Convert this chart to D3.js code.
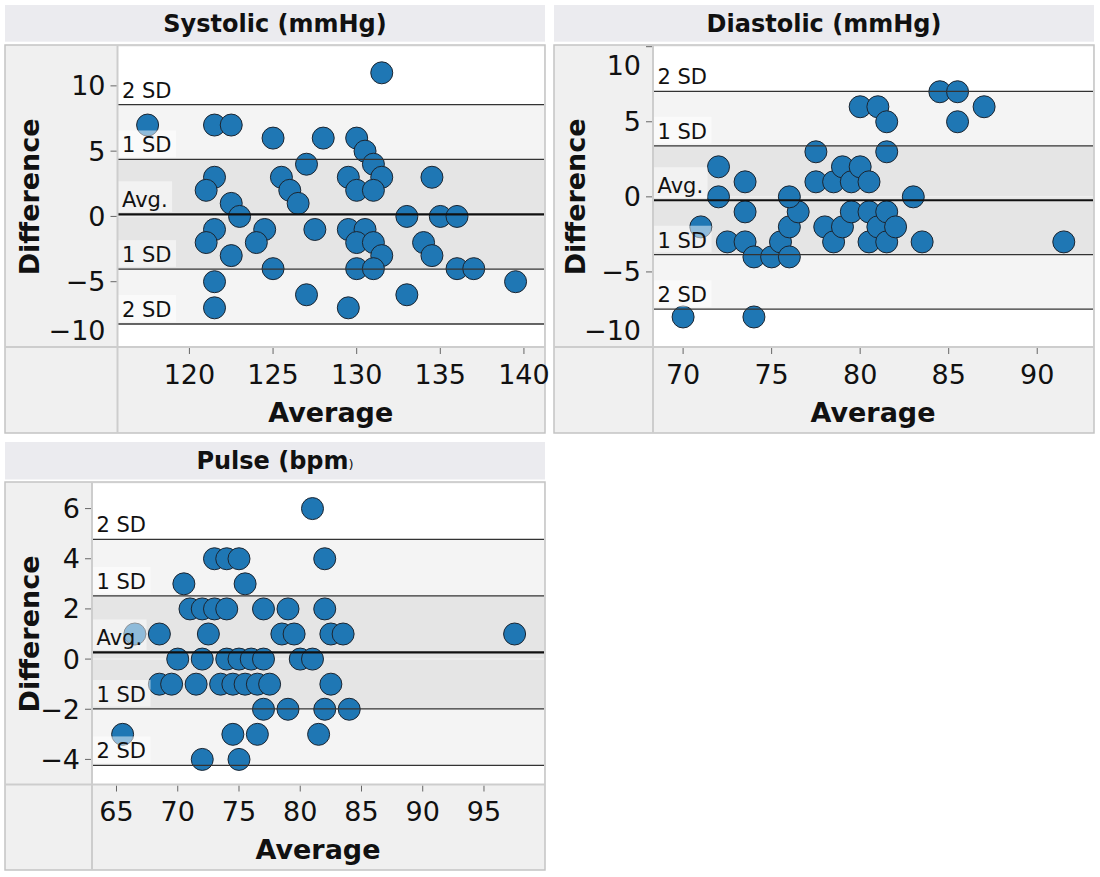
<!DOCTYPE html>
<html>
<head>
<meta charset="utf-8">
<script src="https://cdn.jsdelivr.net/npm/d3@7"></script>
<style>
body{margin:0;background:#fff}
text{font-family:"DejaVu Sans",sans-serif;fill:#111}
</style>
</head>
<body>
<div id="chart"></div>
<script>
// Bland-Altman style panels: average vs difference

const sysAvg = [117.5,131.5,121.5,122.5,125,128,130,130.5,131,131.5,127,121.5,125.5,129.5,134.5,121,126,130,131,122.5,126.5,123,133,135,136,121.5,124.5,127.5,129.5,130.5,121,124,130,131,134,122.5,131.5,134.5,125,130,131,136,137,121.5,139.5,127,133,121.5,129.5]
const sysDiff = [7,11,7,7,6,6,6,5,4,3,4,3,3,3,3,2,2,2,2,1,1,0,0,0,0,-1,-1,-1,-1,-1,-2,-2,-2,-2,-2,-3,-3,-3,-4,-4,-4,-4,-4,-5,-5,-6,-6,-7,-7]

const diaAvg = [70,74,71,72,72,72.5,73.5,73.5,73.5,74,75,75.5,76,76,76.5,76,77.5,77.5,78,78.5,78.5,79,79,79.5,79.5,80,80,80.5,80.5,80.5,81,81,81.5,81.5,81.5,81.5,82,83,83.5,84.5,85.5,85.5,87,91.5]
const diaDiff = [-8,-8,-2,2,0,-3,1,-1,-3,-4,-4,-3,-4,-2,-1,0,3,1,-2,1,-3,2,-2,1,-1,6,2,1,-1,-3,6,-2,5,3,-1,-3,-2,0,-3,7,7,5,6,-3]

const pulAvg = [81,73,74,75,82,70.5,75.5,71,72,73,74,77,79,82,66.5,68.5,72.5,78.5,79.5,82.5,83.5,97.5,70,72,74,75,76,77,80,81,68.5,69.5,71.5,73.5,74.5,75.5,76.5,77.5,82.5,77,79,82,84,65.5,74.5,76.5,81.5,72,75]
const pulDiff = [6,4,4,4,4,3,3,2,2,2,2,2,2,2,1,1,1,1,1,1,1,1,0,0,0,0,0,0,0,0,-1,-1,-1,-1,-1,-1,-1,-1,-1,-2,-2,-2,-2,-3,-3,-3,-3,-4,-4]

const sysXTicks = [120,125,130,135,140]
const sysYTicks = [-10,-5,0,5,10]
const diaXTicks = [70,75,80,85,90]
const diaYTicks = [-10,-5,0,5,10]
const pulXTicks = [65,70,75,80,85,90,95]
const pulYTicks = [-4,-2,0,2,4,6]

const bandLabels = [[2,"2 SD"],[1,"1 SD"],[0,"Avg."],[-1,"1 SD"],[-2,"2 SD"]]

const svg = d3.select("#chart").append("svg")
.attr("width",1100)
.attr("height",877)

const panels = [
{ id:"sys", title:"Systolic (mmHg)", avg:sysAvg, diff:sysDiff, xTicks:sysXTicks, yTicks:sysYTicks,
  xDom:[115.7,141.2], yDom:[-10,13],
  fx0:5, fx1:545, ty0:5, ty1:41.7, fy0:45, fy1:433, l:117.5, r:544, t:46.7, b:347, ylab:33.5 },
{ id:"dia", title:"Diastolic (mmHg)", avg:diaAvg, diff:diaDiff, xTicks:diaXTicks, yTicks:diaYTicks,
  xDom:[68.3,93.15], yDom:[-10,10],
  fx0:554, fx1:1094, ty0:5, ty1:41.7, fy0:45, fy1:433, l:653, r:1093, t:46.7, b:347, ylab:31 },
{ id:"pul", title:"Pulse (bpm", avg:pulAvg, diff:pulDiff, xTicks:pulXTicks, yTicks:pulYTicks,
  xDom:[63,99.9], yDom:[-5,7],
  fx0:5, fx1:545, ty0:442, ty1:479.5, fy0:482, fy1:870, l:92, r:544, t:483.5, b:784.5, ylab:33.5 }
]

function drawPanel(p){

const g = svg.append("g")

// title band
g.append("rect")
.attr("x",p.fx0).attr("y",p.ty0)
.attr("width",p.fx1-p.fx0).attr("height",p.ty1-p.ty0)
.attr("fill","#ebebef")

const title = g.append("text")
.attr("x",(p.fx0+p.fx1)/2)
.attr("y",p.ty0+26.5)
.attr("text-anchor","middle")
.attr("font-size",24)
.attr("font-weight","bold")
.text(p.title)
if(p.id=="pul"){
  title.append("tspan").attr("font-size",13).attr("font-weight","normal").text(")")
}

// frame + gutters
g.append("rect")
.attr("x",p.fx0).attr("y",p.fy0)
.attr("width",p.fx1-p.fx0).attr("height",p.fy1-p.fy0)
.attr("fill","#f0f0f0")
.attr("stroke","#c4c4c4")
.attr("stroke-width",1.5)

g.append("rect")
.attr("x",p.l).attr("y",p.t)
.attr("width",p.r-p.l).attr("height",p.b-p.t)
.attr("fill","#fff")

const x = d3.scaleLinear().domain(p.xDom).range([p.l,p.r])
const y = d3.scaleLinear().domain(p.yDom).range([p.b,p.t])

const mean = d3.mean(p.diff)
const sd = d3.deviation(p.diff)

g.append("clipPath").attr("id","clip-"+p.id)
.append("rect")
.attr("x",p.l).attr("y",p.t)
.attr("width",p.r-p.l).attr("height",p.b-p.t)

const inner = g.append("g").attr("clip-path",`url(#clip-${p.id})`)

const bands = [[1,2,"#f4f4f4"],[-1,1,"#e5e5e5"],[-2,-1,"#f4f4f4"]]
inner.selectAll("rect.band")
.data(bands)
.enter()
.append("rect")
.attr("class","band")
.attr("x",p.l)
.attr("width",p.r-p.l)
.attr("y",d=>y(mean+d[1]*sd))
.attr("height",d=>y(mean+d[0]*sd)-y(mean+d[1]*sd))
.attr("fill",d=>d[2])

// faint zero reference
inner.append("line")
.attr("x1",p.l).attr("x2",p.r)
.attr("y1",y(0)).attr("y2",y(0))
.attr("stroke","#efefef")
.attr("stroke-width",1.5)

const pts = p.avg.map((a,i)=>({a:a,d:p.diff[i]}))

inner.selectAll("circle")
.data(pts)
.enter()
.append("circle")
.attr("cx",d=>x(d.a))
.attr("cy",d=>y(d.d))
.attr("r",11)
.attr("fill","#1f77b4")
.attr("stroke","#1c2530")
.attr("stroke-width",1)

inner.selectAll("line.sd")
.data(bandLabels)
.enter()
.append("line")
.attr("class","sd")
.attr("x1",p.l).attr("x2",p.r)
.attr("y1",d=>y(mean+d[0]*sd))
.attr("y2",d=>y(mean+d[0]*sd))
.attr("stroke",d=>d[0]==0?"#111":"#333")
.attr("stroke-width",d=>d[0]==0?2.2:1.3)

// band labels with translucent boxes
bandLabels.forEach(d=>{
  const ly = y(mean+d[0]*sd)
  const box = inner.append("rect")
  const t = inner.append("text")
  .attr("x",p.l+4.5)
  .attr("y",ly-7)
  .attr("font-size",21)
  .text(d[1])
  const w = t.node().getComputedTextLength()
  const top = d[0]==0 ? ly-33 : ly-29
  box.attr("x",p.l)
  .attr("y",top)
  .attr("width",w+9)
  .attr("height",ly-2.3-top)
  .attr("fill","#fff")
  .attr("fill-opacity",0.5)
})

// y axis
const fmt = d3.format("")
g.selectAll("line.yt")
.data(p.yTicks)
.enter()
.append("line")
.attr("class","yt")
.attr("x1",p.l-7).attr("x2",p.l)
.attr("y1",d=>y(d)).attr("y2",d=>y(d))
.attr("stroke","#666")

g.selectAll("text.yt")
.data(p.yTicks)
.enter()
.append("text")
.attr("class","yt")
.attr("x",p.l-12)
.attr("y",d=>Math.max(p.t+28,Math.min(p.b-7,y(d)+9.5)))
.attr("text-anchor","end")
.attr("font-size",27)
.text(d=>fmt(d))

// x axis
g.selectAll("line.xt")
.data(p.xTicks)
.enter()
.append("line")
.attr("class","xt")
.attr("x1",d=>x(d)).attr("x2",d=>x(d))
.attr("y1",p.b+1).attr("y2",p.b+7)
.attr("stroke","#666")

g.selectAll("text.xt")
.data(p.xTicks)
.enter()
.append("text")
.attr("class","xt")
.attr("x",d=>x(d))
.attr("y",p.b+36.5)
.attr("text-anchor","middle")
.attr("font-size",27)
.text(d=>fmt(d))

// cell dividers
g.append("line")
.attr("x1",p.l).attr("x2",p.l)
.attr("y1",p.fy0).attr("y2",p.fy1)
.attr("stroke","#cdcdcd").attr("stroke-width",2)

g.append("line")
.attr("x1",p.fx0).attr("x2",p.fx1)
.attr("y1",p.b).attr("y2",p.b)
.attr("stroke","#cdcdcd").attr("stroke-width",2)

g.append("text")
.attr("x",(p.l+p.r)/2)
.attr("y",p.fy1-11.5)
.attr("text-anchor","middle")
.attr("font-size",27)
.attr("font-weight","bold")
.text("Average")

g.append("text")
.attr("transform",`translate(${p.fx0+p.ylab},${(p.t+p.b)/2}) rotate(-90)`)
.attr("text-anchor","middle")
.attr("font-size",27)
.attr("font-weight","bold")
.text("Difference")

}

panels.forEach(drawPanel)
</script>
</body>
</html>
